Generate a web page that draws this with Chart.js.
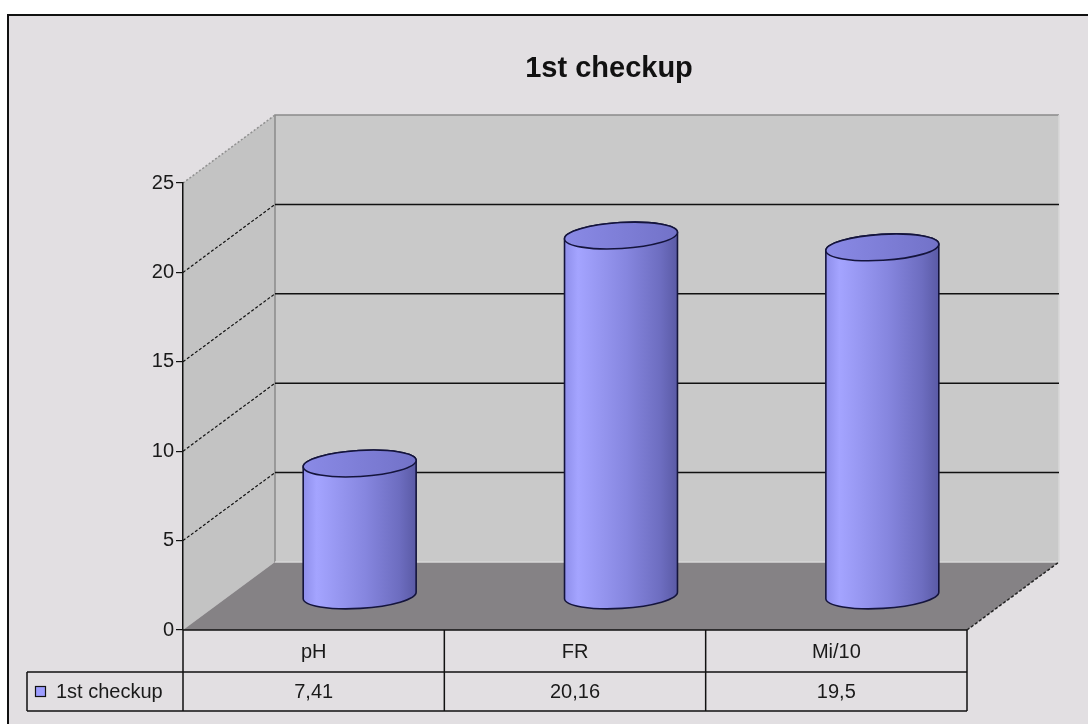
<!DOCTYPE html>
<html>
<head>
<meta charset="utf-8">
<script src="https://cdn.jsdelivr.net/npm/chart.js@4.4.0/dist/chart.umd.min.js"></script>
<style>
html,body{margin:0;padding:0;background:#fff;}
#wrap{width:1088px;height:724px;}
</style>
</head>
<body>
<div id="wrap"><canvas id="c" width="1088" height="724"></canvas></div>
<script>
const chartTitle = "1st checkup";
const categories = ["pH", "FR", "Mi/10"];
const seriesName = "1st checkup";
const values = [7.41, 20.16, 19.5];
const yTicks = [0, 5, 10, 15, 20, 25];

const FONT = '"Liberation Sans", Arial, sans-serif';
const DX = 92, DY = -68;

const threeD = {
  id: 'threeD',
  beforeDraw(chart) {
    const ctx = chart.ctx;
    const a = chart.chartArea;
    const y = chart.scales.y;
    ctx.save();
    // page
    ctx.fillStyle = '#ffffff';
    ctx.fillRect(0, 0, chart.width, chart.height);
    ctx.fillStyle = '#e2dfe2';
    ctx.fillRect(8, 15, chart.width, chart.height);
    ctx.strokeStyle = '#111';
    ctx.lineWidth = 2;
    ctx.beginPath();
    ctx.moveTo(8, chart.height + 2);
    ctx.lineTo(8, 15);
    ctx.lineTo(chart.width + 2, 15);
    ctx.stroke();
    // title
    ctx.fillStyle = '#111';
    ctx.font = 'bold 29px ' + FONT;
    ctx.textAlign = 'center';
    ctx.textBaseline = 'alphabetic';
    ctx.fillText(chartTitle, 609, 77);

    const y0 = y.getPixelForValue(0);
    const yTop = y.getPixelForValue(yTicks[yTicks.length - 1]);
    const L = a.left, R = a.right;
    // back wall
    ctx.fillStyle = '#c9c9c9';
    ctx.fillRect(L + DX, yTop + DY, R - L, y0 - yTop);
    // left wall
    ctx.fillStyle = '#c3c3c3';
    ctx.beginPath();
    ctx.moveTo(L, yTop); ctx.lineTo(L + DX, yTop + DY);
    ctx.lineTo(L + DX, y0 + DY); ctx.lineTo(L, y0);
    ctx.closePath(); ctx.fill();
    // floor
    ctx.fillStyle = '#858285';
    ctx.beginPath();
    ctx.moveTo(L, y0); ctx.lineTo(L + DX, y0 + DY);
    ctx.lineTo(R + DX, y0 + DY); ctx.lineTo(R, y0);
    ctx.closePath(); ctx.fill();
    // wall edges
    ctx.strokeStyle = '#8a8a8a';
    ctx.lineWidth = 1.5;
    ctx.beginPath();
    ctx.moveTo(L + DX, y0 + DY); ctx.lineTo(L + DX, yTop + DY);
    ctx.lineTo(R + DX, yTop + DY);
    ctx.stroke();
    ctx.strokeStyle = '#d8d8d8';
    ctx.beginPath();
    ctx.moveTo(R + DX, yTop + DY); ctx.lineTo(R + DX, y0 + DY);
    ctx.moveTo(L + DX, y0 + DY); ctx.lineTo(R + DX, y0 + DY);
    ctx.stroke();
    ctx.strokeStyle = '#909090';
    ctx.setLineDash([2, 2]);
    ctx.beginPath();
    ctx.moveTo(L, yTop); ctx.lineTo(L + DX, yTop + DY);
    ctx.stroke();
    // gridlines
    yTicks.forEach(v => {
      if (v === 0 || v === yTicks[yTicks.length - 1]) return;
      const py = y.getPixelForValue(v);
      ctx.strokeStyle = '#111';
      ctx.lineWidth = 1.2;
      ctx.setLineDash([3, 2]);
      ctx.beginPath();
      ctx.moveTo(L, py); ctx.lineTo(L + DX, py + DY);
      ctx.stroke();
      ctx.setLineDash([]);
      ctx.lineWidth = 1.5;
      ctx.beginPath();
      ctx.moveTo(L + DX, py + DY); ctx.lineTo(R + DX, py + DY);
      ctx.stroke();
    });
    // floor right edge
    ctx.strokeStyle = '#222';
    ctx.lineWidth = 1.5;
    ctx.setLineDash([3, 2]);
    ctx.beginPath();
    ctx.moveTo(R, y0); ctx.lineTo(R + DX, y0 + DY);
    ctx.stroke();
    ctx.setLineDash([]);
    ctx.restore();
  },
  afterDatasetsDraw(chart) {
    const ctx = chart.ctx;
    const a = chart.chartArea;
    const meta = chart.getDatasetMeta(0);
    const ox = DX / 2, oy = DY / 2;
    const ry = 13, rot = -0.06;
    ctx.save();
    meta.data.forEach(bar => {
      const p = bar.getProps(['x', 'y', 'base', 'width'], true);
      const cx = p.x + ox;
      const hw = p.width / 2;
      const top = p.y + oy, bot = p.base + oy;
      const left = cx - hw, right = cx + hw;
      const g = ctx.createLinearGradient(left, 0, right, 0);
      g.addColorStop(0, '#8e8eea');
      g.addColorStop(0.12, '#a4a4ff');
      g.addColorStop(0.55, '#8686df');
      g.addColorStop(0.85, '#6d6dc0');
      g.addColorStop(1, '#5a5aa5');
      // body
      ctx.beginPath();
      ctx.ellipse(cx, bot, hw, ry, rot, 0, Math.PI, false);
      ctx.ellipse(cx, top, hw, ry, rot, Math.PI, 0, false);
      ctx.closePath();
      ctx.fillStyle = g;
      ctx.fill();
      ctx.strokeStyle = '#14143c';
      ctx.lineWidth = 1.6;
      ctx.stroke();
      // top
      const tg = ctx.createLinearGradient(left, 0, right, 0);
      tg.addColorStop(0, '#8a8ae6');
      tg.addColorStop(1, '#7272c8');
      ctx.beginPath();
      ctx.ellipse(cx, top, hw, ry, rot, 0, Math.PI * 2);
      ctx.fillStyle = tg;
      ctx.fill();
      ctx.stroke();
    });

    // data table
    const y0 = chart.scales.y.getPixelForValue(0);
    const r1 = y0 + 42, r2 = y0 + 81;
    const L = a.left, R = a.right;
    const xs = chart.scales.x;
    const edges = [L];
    for (let i = 0; i < categories.length - 1; i++) {
      edges.push((xs.getPixelForValue(i) + xs.getPixelForValue(i + 1)) / 2);
    }
    edges.push(R);
    ctx.strokeStyle = '#111';
    ctx.lineWidth = 1.5;
    ctx.beginPath();
    ctx.moveTo(L, y0); ctx.lineTo(R, y0);
    ctx.moveTo(27, r1); ctx.lineTo(R, r1);
    ctx.moveTo(27, r2); ctx.lineTo(R, r2);
    ctx.moveTo(27, r1); ctx.lineTo(27, r2);
    edges.forEach(e => { ctx.moveTo(e, y0); ctx.lineTo(e, r2); });
    ctx.stroke();
    ctx.fillStyle = '#1a1a1a';
    ctx.font = '20px ' + FONT;
    ctx.textAlign = 'center';
    ctx.textBaseline = 'middle';
    categories.forEach((c, i) => {
      const cx = xs.getPixelForValue(i);
      ctx.fillText(c, cx, (y0 + r1) / 2 + 1);
      ctx.fillText(String(values[i]).replace('.', ','), cx, (r1 + r2) / 2 + 1);
    });
    // legend key
    ctx.fillStyle = '#9d9dff';
    ctx.fillRect(35.5, 686.5, 10, 10);
    ctx.strokeStyle = '#111';
    ctx.lineWidth = 1.2;
    ctx.strokeRect(35.5, 686.5, 10, 10);
    ctx.fillStyle = '#1a1a1a';
    ctx.textAlign = 'left';
    ctx.fillText(seriesName, 56, (r1 + r2) / 2 + 1);
    ctx.restore();
  }
};

new Chart(document.getElementById('c'), {
  type: 'bar',
  data: {
    labels: categories,
    datasets: [{
      label: seriesName,
      data: values,
      backgroundColor: 'rgba(0,0,0,0)',
      borderWidth: 0,
      barPercentage: 0.433,
      categoryPercentage: 1
    }]
  },
  options: {
    responsive: false,
    animation: false,
    layout: { padding: { left: 0, top: 183, right: 121, bottom: 94 } },
    plugins: { legend: { display: false }, title: { display: false }, tooltip: { enabled: false } },
    scales: {
      x: { display: false },
      y: {
        min: 0, max: 25,
        afterFit(s) { s.width = 183; },
        afterBuildTicks(s) { s.ticks = yTicks.map(v => ({ value: v })); },
        ticks: { color: '#1a1a1a', font: { family: FONT, size: 20 }, padding: 2 },
        grid: { drawOnChartArea: false, drawTicks: true, tickLength: 7, color: '#111', lineWidth: 1.2 },
        border: { display: true, color: '#111', width: 1.5 }
      }
    }
  },
  plugins: [threeD]
});
</script>
</body>
</html>
